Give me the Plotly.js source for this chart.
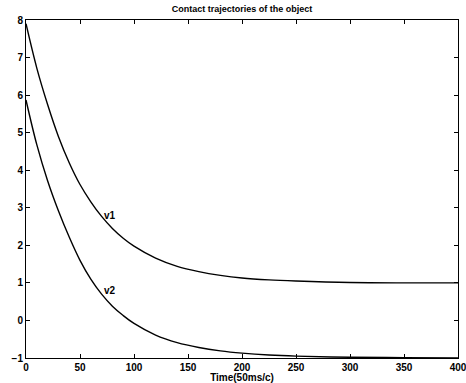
<!DOCTYPE html>
<html>
<head>
<meta charset="utf-8">
<script src="https://cdn.plot.ly/plotly-3.0.1.min.js"></script>
<style>html,body{margin:0;padding:0;background:#fff;}</style>
</head>
<body>
<div id="chart" style="width:466px;height:383px;"></div>
<script>
const time = [0, 10, 20, 30, 40, 50, 60, 70, 80, 90, 100, 120, 140, 160, 180, 200, 225, 250, 300, 350, 400];
const v1 = [7.9, 6.72, 5.75, 4.9, 4.2, 3.62, 3.16, 2.77, 2.45, 2.19, 1.98, 1.66, 1.44, 1.3, 1.2, 1.13, 1.08, 1.05, 1.01, 1.0, 1.0];
const v2 = [5.87, 4.68, 3.72, 2.92, 2.22, 1.6, 1.1, 0.7, 0.38, 0.13, -0.08, -0.39, -0.59, -0.72, -0.81, -0.87, -0.92, -0.95, -0.98, -0.99, -1.0];
const seriesNames = ["v1", "v2"];
const labelX = [78, 78];
const labelY = [2.8, 0.8];
const xTicks = [0, 50, 100, 150, 200, 250, 300, 350, 400];
const yTicks = [-1, 0, 1, 2, 3, 4, 5, 6, 7, 8];
const titleText = "Contact trajectories of the object";
const xTitle = "Time(50ms/c)";

const fnt = {family: "Liberation Sans, Arial, sans-serif", size: 10, color: "#000", weight: "bold"};

const traces = [v1, v2].map((ys, i) => ({
  x: time, y: ys, type: "scatter", mode: "lines", name: seriesNames[i],
  line: {color: "#000", width: 1.4, shape: "spline", smoothing: 1},
  hoverinfo: "skip"
}));

const axisCommon = {
  showgrid: false, zeroline: false, showline: true, linecolor: "#000", linewidth: 1,
  mirror: "ticks", ticks: "inside", ticklen: 4, tickwidth: 1, tickcolor: "#000",
  tickfont: fnt, fixedrange: true, ticklabeloverflow: "allow"
};

const layout = {
  width: 466, height: 383,
  margin: {l: 26, r: 8, t: 20, b: 25, pad: 0},
  paper_bgcolor: "#fff", plot_bgcolor: "#fff",
  showlegend: false,
  font: fnt,
  title: {text: titleText, font: {family: "Liberation Sans, Arial, sans-serif", size: 9, weight: "bold", color: "#000"},
          x: 0.5, xref: "paper", xanchor: "center", y: 1 - 9/383, yref: "container", yanchor: "middle"},
  xaxis: Object.assign({}, axisCommon, {range: [0, 400], tickvals: xTicks, ticktext: xTicks.map(String),
          title: {text: xTitle, font: fnt, standoff: 0}}),
  yaxis: Object.assign({}, axisCommon, {range: [-1, 8], tickvals: yTicks, ticktext: yTicks.map(v => v < 0 ? "\u2212" + Math.abs(v) : String(v))}),
  annotations: seriesNames.map((n, i) => ({
    x: labelX[i], y: labelY[i], xref: "x", yref: "y", text: n, showarrow: false,
    font: fnt, xanchor: "center", yanchor: "middle"
  }))
};

Plotly.newPlot("chart", traces, layout, {staticPlot: true, displayModeBar: false});
</script>
</body>
</html>
